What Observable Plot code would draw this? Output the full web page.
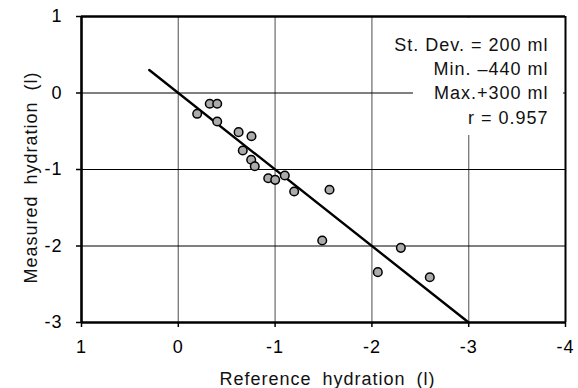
<!DOCTYPE html>
<html>
<head>
<meta charset="utf-8">
<script src="https://cdn.jsdelivr.net/npm/d3@7"></script>
<script src="https://cdn.jsdelivr.net/npm/@observablehq/plot@0.6"></script>
<style>
  html, body { margin: 0; padding: 0; background: #fff; }
  #chart svg text { letter-spacing: 1px; }
  #chart svg .title text { word-spacing: 5px; }
</style>
</head>
<body>
<div id="chart"></div>
<script>
// Reference vs. measured hydration change (litres)
const referenceL = [-0.195, -0.325, -0.402, -0.402, -0.623, -0.756, -0.666, -0.753, -0.790,
                    -0.929, -1.001, -1.100, -1.197, -1.562, -1.487, -2.299, -2.061, -2.598];
const measuredL  = [-0.272, -0.141, -0.141, -0.373, -0.512, -0.565, -0.752, -0.873, -0.957,
                    -1.114, -1.135, -1.078, -1.288, -1.265, -1.928, -2.024, -2.342, -2.408];

// Fitted line end points
const fitX = [0.3, -3.0];
const fitY = [0.3, -3.0];

const xTicks = [1, 0, -1, -2, -3, -4];
const yTicks = [1, 0, -1, -2, -3];
const xGrid = [0, -1, -2, -3];
const yGrid = [0, -1, -2];

const statLines = ["St. Dev. = 200 ml", "Min. \u2013440 ml", "Max.+300 ml", "r = 0.957"];
const xTitle = "Reference hydration (l)";
const yTitle = "Measured hydration (l)";

const points = referenceL.map((x, i) => ({x, y: measuredL[i]}));
const fit = fitX.map((x, i) => ({x, y: fitY[i]}));

// White panel behind the statistics block
function statPanel(index, scales, values, dim) {
  const right = dim.width - dim.marginRight;
  return d3.create("svg:rect")
    .attr("x", right - 152)
    .attr("y", dim.marginTop + 2)
    .attr("width", 150)
    .attr("height", 117)
    .attr("fill", "white")
    .node();
}

const chart = Plot.plot({
  width: 578,
  height: 388,
  marginLeft: 81,
  marginRight: 13,
  marginTop: 16,
  marginBottom: 66,
  style: {fontFamily: "'Liberation Sans', Arial, sans-serif", fontSize: "18px", color: "#000", background: "#fff"},
  x: {domain: [1, -4]},
  y: {domain: [-3, 1]},
  marks: [
    Plot.ruleX(xGrid, {stroke: "#7f7f7f", strokeWidth: 1.4}),
    Plot.ruleY(yGrid, {stroke: "#000", strokeWidth: 1}),
    statPanel,
    // frame
    Plot.ruleY([1, -3], {stroke: "#000", strokeWidth: 2.6}),
    Plot.ruleX([1], {stroke: "#000", strokeWidth: 2.6}),
    Plot.ruleX([-4], {stroke: "#000", strokeWidth: 2}),
    Plot.axisX({ticks: xTicks, tickSize: 5, tickPadding: 13, tickFormat: d => String(d), label: null, fontSize: 18, strokeWidth: 1.5}),
    Plot.axisY({ticks: yTicks, tickSize: 5, tickPadding: 14, tickFormat: d => String(d), label: null, fontSize: 18, strokeWidth: 1.5}),
    Plot.line(fit, {x: "x", y: "y", stroke: "#000", strokeWidth: 2.4}),
    Plot.dot(points, {x: "x", y: "y", r: 4.3, fill: "#ababab", stroke: "#000", strokeWidth: 1.5}),
    Plot.text([statLines.join("\n")], {
      frameAnchor: "top-right", dx: -17, dy: 17, lineAnchor: "top",
      textAnchor: "end", lineHeight: 1.35, fontSize: 18, fill: "#111"
    }),
    Plot.text([xTitle], {frameAnchor: "bottom", dx: 4, dy: 57, textAnchor: "middle", lineAnchor: "middle", fontSize: 18, fill: "#111", className: "title"}),
    Plot.text([yTitle], {frameAnchor: "left", dx: -50, dy: 8, rotate: -90, textAnchor: "middle", lineAnchor: "middle", fontSize: 18, fill: "#111", className: "title"})
  ]
});

document.getElementById("chart").append(chart);
</script>
</body>
</html>
